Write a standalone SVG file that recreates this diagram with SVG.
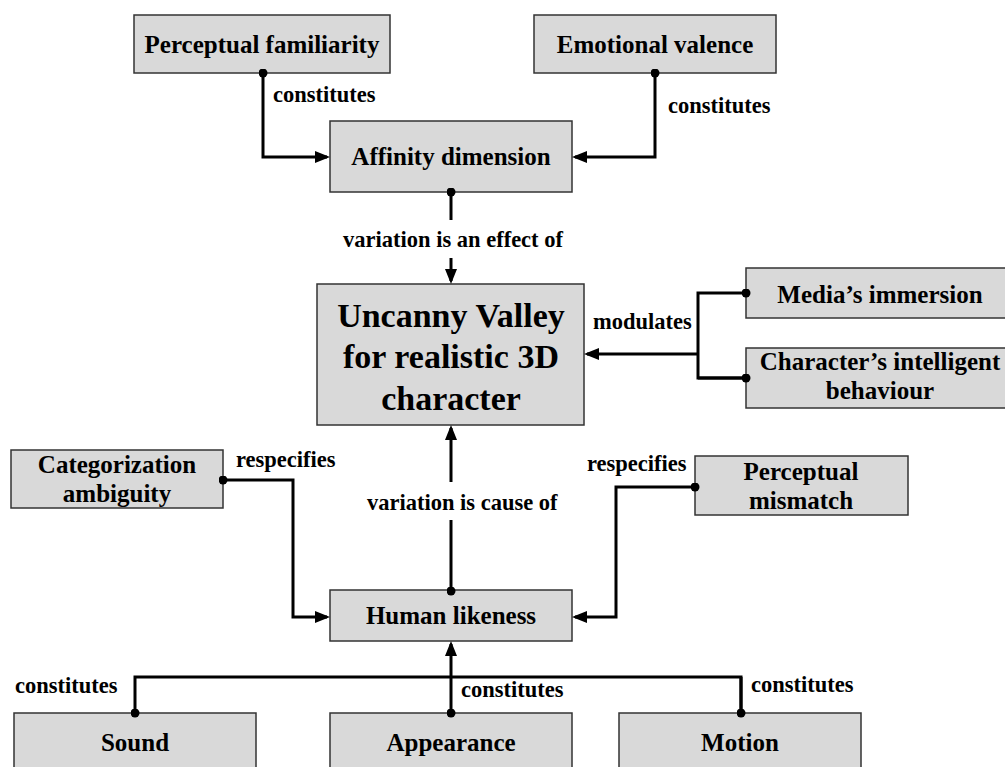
<svg xmlns="http://www.w3.org/2000/svg" width="1005" height="767" viewBox="0 0 1005 767" font-family="'Liberation Serif', 'Times New Roman', Times, serif" font-weight="bold">
  <style>
    .box { fill: #d9d9d9; stroke: #333333; stroke-width: 1.5; }
    .node { font-size: 25px; fill: #000; text-anchor: middle; }
    .big { font-size: 34px; }
    .lbl { font-size: 22.5px; fill: #000; }
    .mid { text-anchor: middle; }
    .wire { fill: none; stroke: #000; stroke-width: 3; }
    .arr { marker-end: url(#head); }
    .src { marker-start: url(#dot); }
  </style>
  <defs>
    <marker id="head" viewBox="0 0 15 12" refX="12" refY="6" markerWidth="15" markerHeight="12" markerUnits="userSpaceOnUse" orient="auto">
      <path d="M0,0 L15,6 L0,12 Z" fill="#000"/>
    </marker>
    <marker id="dot" viewBox="0 0 10 10" refX="5" refY="5" markerWidth="9" markerHeight="9" markerUnits="userSpaceOnUse">
      <circle cx="5" cy="5" r="5" fill="#000"/>
    </marker>
  </defs>

  <g id="perceptual-familiarity">
    <rect class="box" x="134" y="15" width="256" height="58"/>
    <text class="node" x="262" y="53">Perceptual familiarity</text>
  </g>
  <g id="emotional-valence">
    <rect class="box" x="534" y="15" width="242" height="58"/>
    <text class="node" x="655" y="53">Emotional valence</text>
  </g>
  <g id="affinity-dimension">
    <rect class="box" x="330" y="121" width="242" height="71"/>
    <text class="node" x="451" y="165">Affinity dimension</text>
  </g>
  <g id="uncanny-valley">
    <rect class="box" x="317" y="284" width="267" height="141"/>
    <text class="node big" x="451" y="327">Uncanny Valley</text>
    <text class="node big" x="451" y="368">for realistic 3D</text>
    <text class="node big" x="451" y="410">character</text>
  </g>
  <g id="media-immersion">
    <rect class="box" x="746" y="268" width="268" height="50"/>
    <text class="node" x="880" y="303">Media’s immersion</text>
  </g>
  <g id="intelligent-behaviour">
    <rect class="box" x="746" y="348" width="268" height="60"/>
    <text class="node" x="880" y="370">Character’s intelligent</text>
    <text class="node" x="880" y="399">behaviour</text>
  </g>
  <g id="categorization-ambiguity">
    <rect class="box" x="11" y="450" width="212" height="58"/>
    <text class="node" x="117" y="473">Categorization</text>
    <text class="node" x="117" y="502">ambiguity</text>
  </g>
  <g id="perceptual-mismatch">
    <rect class="box" x="695" y="456" width="213" height="59"/>
    <text class="node" x="801" y="480">Perceptual</text>
    <text class="node" x="801" y="509">mismatch</text>
  </g>
  <g id="human-likeness">
    <rect class="box" x="330" y="590" width="242" height="51"/>
    <text class="node" x="451" y="624">Human likeness</text>
  </g>
  <g id="sound">
    <rect class="box" x="14" y="713" width="242" height="70"/>
    <text class="node" x="135" y="751">Sound</text>
  </g>
  <g id="appearance">
    <rect class="box" x="330" y="713" width="242" height="70"/>
    <text class="node" x="451" y="751">Appearance</text>
  </g>
  <g id="motion">
    <rect class="box" x="619" y="713" width="242" height="70"/>
    <text class="node" x="740" y="751">Motion</text>
  </g>

  <!-- connectors, drawn last so the source dots sit on top of the box edges -->
  <g id="connectors">
    <path class="wire src arr" d="M263,73 V157 H327"/>
    <path class="wire src arr" d="M655,73 V157 H575"/>
    <path class="wire src" d="M451,192 V220"/>
    <path class="wire arr" d="M451,258 V281"/>
    <path class="wire src" d="M746,293 H698 V378 H746"/>
    <path class="wire src" d="M746,378 H698"/>
    <path class="wire arr" d="M698,354 H587"/>
    <path class="wire src arr" d="M223,480 H293 V617 H327"/>
    <path class="wire src arr" d="M695,487 H616 V617 H575"/>
    <path class="wire src" d="M451,591 V520"/>
    <path class="wire arr" d="M451,482 V428"/>
    <path class="wire src" d="M135,713 V677 H741 V713"/>
    <path class="wire src" d="M741,713 V677"/>
    <path class="wire src arr" d="M451,713 V644"/>

    <text class="lbl" x="273" y="102">constitutes</text>
    <text class="lbl" x="668" y="113">constitutes</text>
    <text class="lbl mid" x="453" y="247">variation is an effect of</text>
    <text class="lbl" x="593" y="329">modulates</text>
    <text class="lbl" x="236" y="467">respecifies</text>
    <text class="lbl" x="367" y="510">variation is cause of</text>
    <text class="lbl" x="587" y="471">respecifies</text>
    <text class="lbl" x="15" y="693">constitutes</text>
    <text class="lbl" x="461" y="697">constitutes</text>
    <text class="lbl" x="751" y="692">constitutes</text>
  </g>
</svg>
